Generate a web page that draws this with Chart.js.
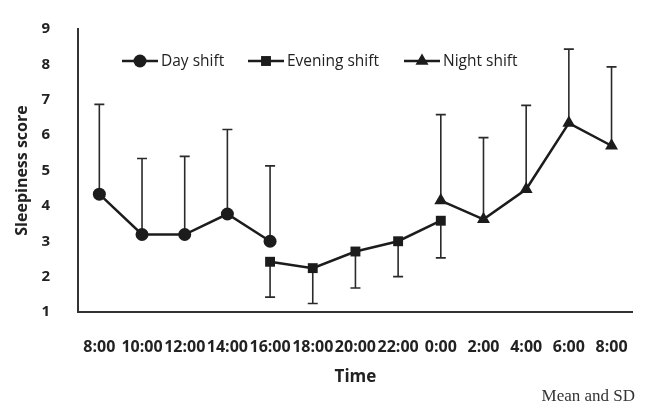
<!DOCTYPE html>
<html>
<head>
<meta charset="utf-8">
<script src="https://cdn.jsdelivr.net/npm/chart.js@4/dist/chart.umd.min.js"></script>
<style>
  body { margin: 0; background: #fff; }
  #wrap { position: relative; width: 646px; height: 409px; }
  #note { position: absolute; right: 11px; top: 386px; font: 17px "Liberation Serif", serif; color: #333; }
</style>
</head>
<body>
<div id="wrap">
  <canvas id="chart"></canvas>
  <div id="note">Mean and SD</div>
</div>
<script>
// categories
const timeLabels = ['8:00', '10:00', '12:00', '14:00', '16:00', '18:00', '20:00', '22:00', '0:00', '2:00', '4:00', '6:00', '8:00'];
const yTicks = [1, 2, 3, 4, 5, 6, 7, 8, 9];

const dayMean     = [4.33, 3.19, 3.19, 3.77, 3.00, null, null, null, null, null, null, null, null];
const daySD       = [2.54, 2.15, 2.21, 2.39, 2.13, null, null, null, null, null, null, null, null];
const eveningMean = [null, null, null, null, 2.42, 2.24, 2.71, 3.00, 3.58, null, null, null, null];
const eveningSD   = [null, null, null, null, 1.00, 1.00, 1.03, 1.00, 1.05, null, null, null, null];
const nightMean   = [null, null, null, null, null, null, null, null, 4.15, 3.62, 4.47, 6.34, 5.70];
const nightSD     = [null, null, null, null, null, null, null, null, 2.43, 2.31, 2.37, 2.09, 2.23];

const ink = '#1c1c1c';

// SD whiskers, one direction per series like the original
const errorBars = {
  id: 'errorBars',
  beforeDatasetsDraw(chart) {
    const { ctx, scales: { x, y } } = chart;
    ctx.save();
    ctx.strokeStyle = '#2a2a2a';
    ctx.lineWidth = 1.6;
    chart.data.datasets.forEach(ds => {
      ds.data.forEach((m, i) => {
        if (m == null || ds.sd[i] == null) return;
        const px = x.getPixelForValue(i);
        const y0 = y.getPixelForValue(m);
        const y1 = y.getPixelForValue(m + ds.sdDir * ds.sd[i]);
        ctx.beginPath();
        ctx.moveTo(px, y0);
        ctx.lineTo(px, y1);
        ctx.moveTo(px - 5, y1);
        ctx.lineTo(px + 5, y1);
        ctx.stroke();
      });
    });
    ctx.restore();
  }
};

// legend inside the plot: line - marker - line, then label
const legendStarts = [122, 248, 404];
const innerLegend = {
  id: 'innerLegend',
  afterDraw(chart) {
    const { ctx } = chart;
    const ly = 61;
    ctx.save();
    ctx.font = '15.5px "Open Sans"';
    ctx.textBaseline = 'middle';
    chart.data.datasets.forEach((ds, k) => {
      const x0 = legendStarts[k];
      ctx.strokeStyle = ink;
      ctx.lineWidth = 2.5;
      ctx.beginPath();
      ctx.moveTo(x0, ly);
      ctx.lineTo(x0 + 36, ly);
      ctx.stroke();
      ctx.fillStyle = ink;
      Chart.helpers.drawPoint(ctx, { pointStyle: ds.pointStyle, radius: ds.pointRadius, borderWidth: 0 }, x0 + 18, ly);
      ctx.fillStyle = '#222';
      ctx.fillText(ds.label, x0 + 39, ly + 1);
    });
    ctx.restore();
  }
};

function series(label, data, sd, dir, style, r) {
  return {
    label, data, sd, sdDir: dir,
    borderColor: ink, backgroundColor: ink,
    borderWidth: 2.5,
    pointStyle: style, pointRadius: r, pointHoverRadius: r,
    pointBackgroundColor: ink, pointBorderColor: ink, pointBorderWidth: 0,
    tension: 0
  };
}

new Chart(document.getElementById('chart'), {
  type: 'line',
  data: {
    labels: timeLabels,
    datasets: [
      series('Day shift', dayMean, daySD, 1, 'circle', 6.5),
      series('Evening shift', eveningMean, eveningSD, -1, 'rect', 7),
      series('Night shift', nightMean, nightSD, 1, 'triangle', 7.5)
    ]
  },
  options: {
    responsive: true,
    maintainAspectRatio: false,
    animation: false,
    layout: { padding: { top: 19, right: 12, bottom: 22, left: 0 } },
    plugins: { legend: { display: false }, tooltip: { enabled: false } },
    scales: {
      x: {
        offset: true,
        grid: { display: false },
        border: { display: true, color: '#333', width: 2 },
        ticks: {
          autoSkip: false, maxRotation: 0, padding: 18,
          color: '#222', font: { family: 'Open Sans', size: 16, weight: 'bold' }
        },
        title: {
          display: true, text: 'Time', color: '#222',
          font: { family: 'Open Sans', size: 17, weight: 'bold' },
          padding: { top: 0, bottom: 0 }
        },
        afterFit(scale) { scale.height = 75; }
      },
      y: {
        min: 1, max: 9,
        afterBuildTicks(scale) { scale.ticks = yTicks.map(v => ({ value: v })); },
        grid: { display: false },
        border: { display: true, color: '#333', width: 2 },
        ticks: {
          padding: 20, color: '#222',
          font: { family: 'Open Sans', size: 15, weight: 'bold' }
        },
        title: {
          display: true, text: 'Sleepiness score', color: '#222',
          font: { family: 'Open Sans', size: 16, weight: 'bold' },
          padding: { top: 13, bottom: 0 }
        },
        afterFit(scale) { scale.width = 78; }
      }
    }
  },
  plugins: [errorBars, innerLegend]
});
</script>
</body>
</html>
